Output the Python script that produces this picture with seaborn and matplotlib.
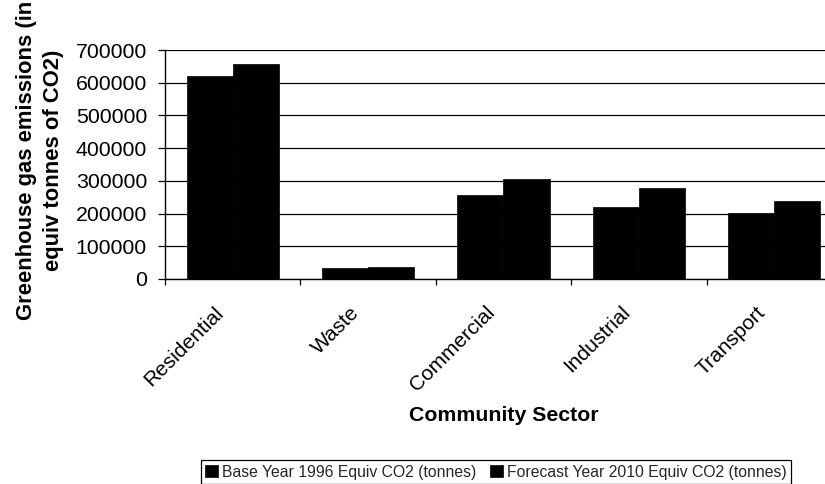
import matplotlib
matplotlib.use("Agg")
import matplotlib.pyplot as plt
import matplotlib.transforms as mtransforms
from matplotlib.ticker import FixedLocator, FuncFormatter
import numpy as np
import pandas as pd
import seaborn as sns

# Emissions by community sector (tonnes of CO2 equivalent)
sectors = ["Residential", "Waste", "Commercial", "Industrial", "Transport"]
series_names = ["Base Year 1996 Equiv CO2 (tonnes)",
                "Forecast Year 2010 Equiv CO2 (tonnes)"]
base_1996 = [622000, 35000, 257000, 219000, 202000]
forecast_2010 = [658000, 36000, 307000, 278000, 237000]
y_ticks = [0, 100000, 200000, 300000, 400000, 500000, 600000, 700000]

df = pd.DataFrame({
    "sector": sectors * 2,
    "value": base_1996 + forecast_2010,
    "series": [series_names[0]] * len(sectors) + [series_names[1]] * len(sectors),
})

sns.set_theme(style="white")
plt.rcParams["font.family"] = ["Liberation Sans", "DejaVu Sans"]

W, H = 825, 484
fig = plt.figure(figsize=(W / 100, H / 100), dpi=100)
ax_left, ax_right, ax_top, ax_bottom = 165, 842, 50, 279
ax = fig.add_axes([ax_left / W, 1 - ax_bottom / H,
                   (ax_right - ax_left) / W, (ax_bottom - ax_top) / H])

sns.barplot(data=df, x="sector", y="value", hue="series", order=sectors,
            hue_order=series_names, palette=["black", "black"],
            width=0.68, gap=0, saturation=1, edgecolor="black",
            linewidth=0.5, ax=ax)

ax.set_xlim(-0.5, len(sectors) - 0.5)
ax.set_ylim(0, 700000)
ax.set_axisbelow(True)

# horizontal gridlines and axes frame
ax.yaxis.set_major_locator(FixedLocator(y_ticks))
ax.yaxis.set_major_formatter(FuncFormatter(lambda v, p: f"{int(v)}"))
ax.grid(axis="y", color="black", linewidth=0.9)
ax.grid(axis="x", visible=False)
for side in ["top", "right"]:
    ax.spines[side].set_visible(False)
for side in ["left", "bottom"]:
    ax.spines[side].set_visible(True)
    ax.spines[side].set_color("black")
    ax.spines[side].set_linewidth(1.0)

ax.tick_params(axis="y", which="major", direction="out", length=5,
               width=0.9, color="black", pad=8, labelsize=15.3,
               labelcolor="black", left=True)

# category boundary ticks below the x axis
ax.set_xticks(np.arange(-0.5, len(sectors) + 0.5, 1.0), minor=True)
ax.tick_params(axis="x", which="minor", direction="out", length=4.5,
               width=0.9, color="black", bottom=True)
ax.tick_params(axis="x", which="major", length=0, pad=22, labelsize=15,
               labelcolor="black")
ax.set_xticks(range(len(sectors)))
ax.set_xticklabels(sectors)
shift = mtransforms.ScaledTranslation(-0.12, 0, fig.dpi_scale_trans)
for lab in ax.get_xticklabels():
    lab.set_rotation(45)
    lab.set_ha("right")
    lab.set_va("center")
    lab.set_rotation_mode("anchor")
    lab.set_transform(lab.get_transform() + shift)

ax.set_xlabel("Community Sector", fontsize=15.3, fontweight="bold",
              color="black", va="top")
ax.xaxis.set_label_coords(0.5, (ax_bottom - 406) / (ax_bottom - ax_top))
ax.set_ylabel("")

fig.text(40 / W, 1 - 160 / H,
         "Greenhouse gas emissions (in\nequiv tonnes of CO2)",
         rotation=90, ha="center", va="center", multialignment="center",
         fontsize=15.8, fontweight="bold", linespacing=1.35, color="black")

handles, labels = ax.get_legend_handles_labels()
if ax.get_legend() is not None:
    ax.get_legend().remove()
leg = fig.legend(handles, labels, loc="upper left",
                 bbox_to_anchor=(200.7 / W, 1 - 460 / H), ncol=2,
                 fontsize=11.3, frameon=True, fancybox=False,
                 edgecolor="black", framealpha=1, borderpad=0.3,
                 handlelength=0.8, handleheight=0.8, handletextpad=0.25,
                 columnspacing=0.9, borderaxespad=0)
leg.get_frame().set_linewidth(0.9)

fig.savefig("out.png", dpi=100, facecolor="white")
